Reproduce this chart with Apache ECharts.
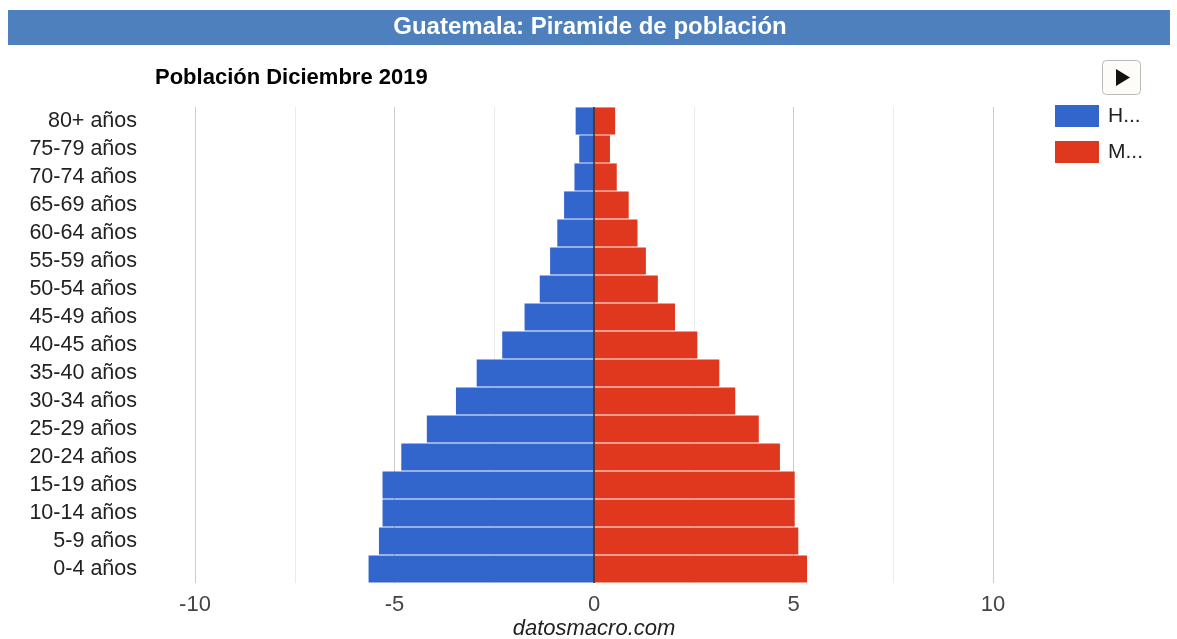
<!DOCTYPE html>
<html>
<head>
<meta charset="utf-8">
<script src="https://cdn.jsdelivr.net/npm/echarts@6/dist/echarts.min.js"></script>
<style>
  html, body { margin: 0; padding: 0; background: #fff; }
  #grafico { width: 1177px; height: 639px; }
</style>
</head>
<body>
<div id="grafico"></div>
<script>
// grupos de edad, de arriba hacia abajo
var edades = ['80+ años', '75-79 años', '70-74 años', '65-69 años', '60-64 años',
    '55-59 años', '50-54 años', '45-49 años', '40-45 años', '35-40 años',
    '30-34 años', '25-29 años', '20-24 años', '15-19 años', '10-14 años',
    '5-9 años', '0-4 años'];
// porcentaje de la poblacion
var hombres = [0.46, 0.37, 0.49, 0.75, 0.92, 1.10, 1.36, 1.74, 2.30, 2.94,
    3.46, 4.19, 4.83, 5.30, 5.30, 5.39, 5.65];
var mujeres = [0.53, 0.40, 0.57, 0.87, 1.09, 1.30, 1.60, 2.03, 2.59, 3.14,
    3.54, 4.13, 4.66, 5.03, 5.03, 5.12, 5.34];
var nombres = ['Hombres', 'Mujeres'];

var fuente = '"Liberation Sans", Arial, sans-serif';

var chart = echarts.init(document.getElementById('grafico'));

chart.setOption({
    animation: false,
    textStyle: { fontFamily: fuente },
    legend: {
        orient: 'vertical',
        left: 1050,
        top: 100,
        itemWidth: 44,
        itemHeight: 22,
        itemGap: 14,
        icon: 'rect',
        data: nombres,
        formatter: function(n) { return n.charAt(0) + '...'; },
        textStyle: { fontSize: 21, color: '#222', fontFamily: fuente, padding: [0, 0, 0, 4] }
    },
    grid: {
        left: 195,
        right: 184,
        top: 107,
        bottom: 56
    },
    xAxis: {
        type: 'value',
        min: -10,
        max: 10,
        interval: 5,
        axisLine: { show: false },
        axisTick: { show: false },
        axisLabel: { fontSize: 22, color: '#444', margin: 11, fontFamily: fuente },
        splitLine: { lineStyle: { color: '#cccccc', width: 1 } },
        minorTick: { show: false, splitNumber: 2 },
        minorSplitLine: { show: true, lineStyle: { color: '#ebebeb', width: 1 } }
    },
    yAxis: {
        type: 'category',
        data: edades,
        inverse: true,
        axisLine: { show: false },
        axisTick: { show: false },
        axisLabel: {
            interval: 0, fontSize: 21.5, color: '#222', margin: 58,
            padding: [5, 0, 0, 0], fontFamily: fuente
        }
    },
    series: [{
        name: nombres[0],
        type: 'bar',
        stack: 'total',
        barCategoryGap: '3%',
        itemStyle: { color: '#3366cc' },
        data: hombres.map(function(v) { return -v; }),
        markLine: {
            silent: true,
            symbol: 'none',
            label: { show: false },
            lineStyle: { color: '#333', width: 1.5, type: 'solid' },
            data: [{ xAxis: 0 }]
        }
    }, {
        name: nombres[1],
        type: 'bar',
        stack: 'total',
        barCategoryGap: '3%',
        itemStyle: { color: '#e0381f' },
        data: mujeres
    }],
    graphic: [{
        type: 'rect',
        left: 8,
        top: 10,
        shape: { width: 1162, height: 35 },
        style: { fill: '#4d80bd' }
    }, {
        type: 'text',
        style: {
            x: 590,
            y: 27,
            text: 'Guatemala: Piramide de población',
            fill: '#fff',
            align: 'center',
            verticalAlign: 'middle',
            font: 'bold 24px ' + fuente
        }
    }, {
        type: 'text',
        style: {
            x: 155,
            y: 78,
            text: 'Población Diciembre 2019',
            fill: '#000',
            verticalAlign: 'middle',
            font: 'bold 22px ' + fuente
        }
    }, {
        type: 'rect',
        left: 1102,
        top: 60,
        shape: { width: 38, height: 34, r: 4 },
        style: { fill: '#fdfcf8', stroke: '#bbb', lineWidth: 1 }
    }, {
        type: 'polygon',
        shape: { points: [[1116, 69], [1116, 86], [1130, 77.5]] },
        style: { fill: '#111' }
    }, {
        type: 'text',
        style: {
            x: 594,
            y: 629,
            text: 'datosmacro.com',
            fill: '#222',
            align: 'center',
            verticalAlign: 'middle',
            font: 'italic 22px ' + fuente
        }
    }]
});
</script>
</body>
</html>
